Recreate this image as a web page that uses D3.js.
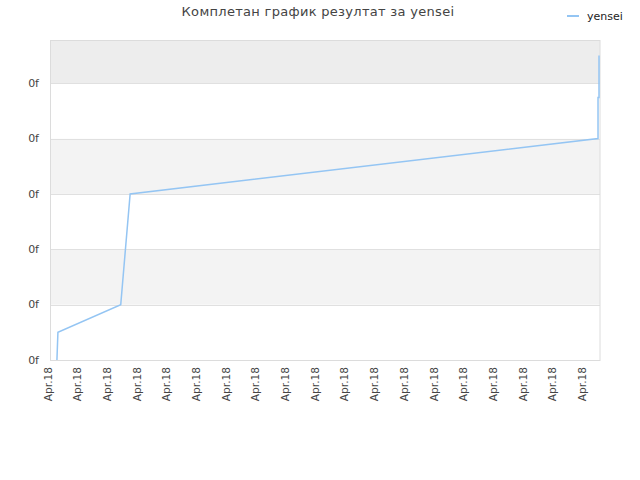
<!DOCTYPE html>
<html><head><meta charset="utf-8">
<script src="https://cdn.jsdelivr.net/npm/d3@7"></script>
<style>body{margin:0;background:#fff;}svg{display:block;font-family:"DejaVu Sans",sans-serif;}</style>
</head><body><svg id="c" width="640" height="480"></svg>
<script>
const title = "Комплетан график резултат за yensei";
const seriesName = "yensei";
const times = ["2018-04-18T00:12","2018-04-18T00:14","2018-04-18T02:21","2018-04-18T02:40","2018-04-18T18:26","2018-04-18T18:26","2018-04-18T18:28","2018-04-18T18:28"];
const values = [0, 0.5, 1, 3, 4, 4.74, 4.74, 5.5];
const yTicks = [0, 1, 2, 3, 4, 5];
const yTickLabel = "0f";
const xStart = "2018-04-18T00:00", xEnd = "2018-04-18T18:30";
const yMax = 5.78;

const parse = d3.timeParse("%Y-%m-%dT%H:%M");
const data = times.map((t,i)=>({t:parse(t), v:values[i]}));
const m = {l:51, r:600, t:40, b:360};
const svg = d3.select("#c");
const x = d3.scaleTime().domain([parse(xStart), parse(xEnd)]).range([m.l, m.r]);
const y = d3.scaleLinear().domain([0, yMax]).range([m.b, m.t]);

// bands
const bandEdges = yTicks.concat([yMax]);
for (let i=0;i<bandEdges.length-1;i++){
  const fill = i===bandEdges.length-2 ? "#ededed" : (i%2===1 ? "#f3f3f3" : "#ffffff");
  svg.append("rect").attr("x",m.l).attr("width",m.r-m.l)
    .attr("y",y(bandEdges[i+1])).attr("height",y(bandEdges[i])-y(bandEdges[i+1])).attr("fill",fill);
}
// grid
svg.append("g").selectAll("line").data(yTicks).join("line")
  .attr("x1",m.l).attr("x2",m.r).attr("y1",d=>Math.round(y(d))+0.5).attr("y2",d=>Math.round(y(d))+0.5)
  .attr("stroke","#e0e0e0");
// border
svg.append("rect").attr("x",m.l-0.5).attr("y",m.t+0.5).attr("width",m.r-m.l+0.5).attr("height",m.b-m.t)
  .attr("fill","none").attr("stroke","#dcdcdc");

// y labels
svg.append("g").selectAll("text").data(yTicks).join("text")
  .attr("x",39).attr("y",d=>y(d)).attr("dy","0.35em").attr("text-anchor","end")
  .attr("font-size",11).attr("fill","#444").text(yTickLabel);

// x labels
const xt = d3.timeHour.range(parse(xStart), d3.timeMinute.offset(parse(xEnd),1));
const fmt = d3.timeFormat("%b.%d");
svg.append("g").selectAll("text").data(xt).join("text")
  .attr("transform",d=>`translate(${x(d)-3},${m.b+7}) rotate(-90)`)
  .attr("dy","0.35em").attr("text-anchor","end")
  .attr("font-size",10.6).attr("fill","#444").text(d=>fmt(d));

// line
svg.append("path").datum(data)
  .attr("d", d3.line().x(d=>x(d.t)).y(d=>y(d.v)))
  .attr("fill","none").attr("stroke","#94c5f3").attr("stroke-width",1.5);

// title
svg.append("text").attr("x",318).attr("y",16).attr("text-anchor","middle")
  .attr("font-size",13).attr("fill","#444").attr("letter-spacing","0.3px").text(title);
// legend
svg.append("line").attr("x1",567).attr("x2",579).attr("y1",16).attr("y2",16)
  .attr("stroke","#94c5f3").attr("stroke-width",2);
svg.append("text").attr("x",587).attr("y",16).attr("dy","0.35em").attr("font-size",11).attr("fill","#222").text(seriesName);
</script></body></html>
